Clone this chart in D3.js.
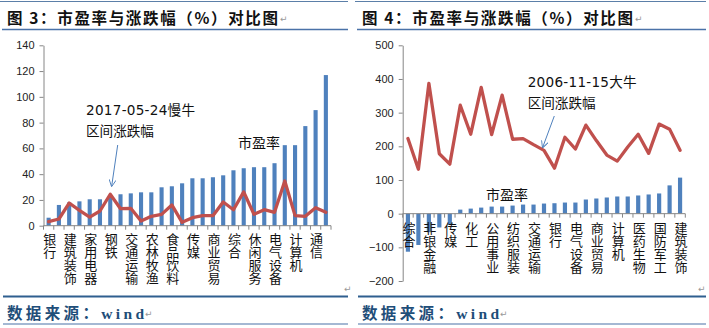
<!DOCTYPE html>
<html><head><meta charset="utf-8">
<script src="https://cdn.jsdelivr.net/npm/d3@7"></script>
<style>
html,body{margin:0;padding:0;background:#fff;}
svg{display:block;}
</style></head>
<body>
<svg id="c" width="709" height="328"></svg>
<script>
// ---------- data ----------
const leftCategories = ["银行","非银金融","建筑装饰","房地产","家用电器","汽车","钢铁","采掘","交通运输","公用事业","农林牧渔","建筑材料","食品饮料","化工","传媒","纺织服装","商业贸易","有色金属","综合","医药生物","休闲服务","轻工制造","电气设备","电子","计算机","机械设备","通信","国防军工"];
const leftPE = [6.2,16.1,18.1,18.9,20.5,20.5,23.5,24.4,25.1,25.9,25.9,29.8,30.6,32.9,36.8,36.8,37.6,39.1,43,44.6,45.4,45.4,48.5,62.5,62.5,77.3,89.7,116.9];
const leftChange = [3.1,5.2,17.6,11.9,6.7,11.4,24.4,13.2,13.5,3.6,7.3,8.8,16.1,2.6,6.2,7.8,7.8,18.4,12.4,26.2,8.8,12.4,10.4,34.7,7.8,7.3,14,10.4];
const leftYTicks = [0,20,40,60,80,100,120,140];

const rightCategories = ["综合","有色金属","非银金融","钢铁","传媒","电子","化工","轻工制造","公用事业","采掘","纺织服装","汽车","交通运输","房地产","银行","家用电器","电气设备","农林牧渔","商业贸易","食品饮料","计算机","机械设备","医药生物","建筑材料","国防军工","休闲服务","建筑装饰"];
const rightPE = [-113,-93,-55,-41,-33,12,15,18,21,21,24,27,27,30,31,33,33,42,45,48,51,51,54,57,60,84,107];
const rightChange = [223,132,387,178,147,322,236,375,235,352,221,223,205,188,135,227,192,263,217,174,156,198,236,179,266,251,188];
const rightYTicks = [-200,-100,0,100,200,300,400,500];

const titles = ["图 3：市盈率与涨跌幅（%）对比图","图 4：市盈率与涨跌幅（%）对比图"];
const sourceText = "数据来源：wind";
const notes = [["2017-05-24慢牛","区间涨跌幅"],["2006-11-15大牛","区间涨跌幅"]];
const seriesLabel = "市盈率";

// ---------- style ----------
const BAR = "#4F81BD", LINE = "#C0504D", AXIS = "#868686";
const svg = d3.select("#c");
svg.append("defs").append("marker")
  .attr("id","arr").attr("viewBox","0 0 10 10").attr("refX",9).attr("refY",5)
  .attr("markerWidth",7).attr("markerHeight",7).attr("orient","auto-start-reverse")
  .attr("markerUnits","userSpaceOnUse")
  .append("path").attr("d","M0,0 L10,5 L0,10").attr("fill","none").attr("stroke",BAR).attr("stroke-width",1.3);

function frame(x0, x1, title, retX){
  svg.append("line").attr("x1",x0).attr("x2",x1).attr("y1",1.5).attr("y2",1.5).attr("stroke","#5B7FA8").attr("stroke-width",1);
  svg.append("text").attr("x",x0+7).attr("y",23.5).text(title)
    .attr("font-family","'Noto Sans CJK SC'").attr("font-weight",700).attr("font-size",15.5)
    .attr("fill","#111").attr("textLength",271).attr("lengthAdjust","spacing");
  svg.append("text").attr("x",x0+280).attr("y",22).text("↵").attr("font-size",9).attr("fill","#999").attr("font-family","'DejaVu Sans'");
  svg.append("line").attr("x1",x0+2).attr("x2",x1).attr("y1",29.5).attr("y2",29.5).attr("stroke","#4A72A8").attr("stroke-width",1.6);
  svg.append("text").attr("x",retX).attr("y",292).text("↵").attr("font-size",9).attr("fill","#999").attr("font-family","'DejaVu Sans'");
  svg.append("line").attr("x1",x0+3).attr("x2",x1).attr("y1",296.5).attr("y2",296.5).attr("stroke","#2F5F8F").attr("stroke-width",2.2);
  svg.append("text").attr("x",x0+7).attr("y",318.5).text(sourceText)
    .attr("font-family","'Liberation Serif','Noto Sans CJK SC'").attr("font-weight",700).attr("font-size",15.5)
    .attr("fill","#1F4E79").attr("textLength",137).attr("lengthAdjust","spacing");
  svg.append("text").attr("x",x0+145).attr("y",317).text("↵").attr("font-size",9).attr("fill","#999").attr("font-family","'DejaVu Sans'");
  svg.append("line").attr("x1",x0+3).attr("x2",x1).attr("y1",324).attr("y2",324).attr("stroke","#4A72A8").attr("stroke-width",1.2);
}
frame(0, 348, titles[0], 344);
frame(355, 706, titles[1], 698);

function chart(opt){
  const {cats, pe, chg, ticks, xr, yr, domain, labelY, note, noteX, noteY, arrow, peLab} = opt;
  const g = svg.append("g");
  const x = d3.scaleBand().domain(cats).range(xr).paddingInner(0).paddingOuter(0);
  const y = d3.scaleLinear().domain(domain).range(yr);
  const bw = x.bandwidth()*0.4;
  g.selectAll("rect.b").data(pe).join("rect")
    .attr("x",(d,i)=>x(cats[i])+x.bandwidth()/2-bw/2)
    .attr("y",d=>Math.min(y(d),y(0)))
    .attr("width",bw)
    .attr("height",d=>Math.abs(y(d)-y(0)))
    .attr("fill",BAR);
  const ya = g.append("g").attr("transform",`translate(${xr[0]},0)`)
    .call(d3.axisLeft(y).tickValues(ticks).tickSize(4).tickSizeOuter(0).tickPadding(5).tickFormat(d3.format("d")));
  ya.select(".domain").attr("stroke",AXIS);
  ya.selectAll(".tick line").attr("stroke",AXIS);
  ya.selectAll(".tick text").attr("font-family","'Liberation Sans',Arial").attr("font-size",11).attr("fill","#222");
  const y0 = y(0);
  g.append("line").attr("x1",xr[0]).attr("x2",xr[1]).attr("y1",y0).attr("y2",y0).attr("stroke",AXIS);
  const bounds = d3.range(cats.length+1).map(i=> i<cats.length ? x(cats[i]) : xr[1]);
  g.selectAll("line.t").data(bounds).join("line")
    .attr("x1",d=>d).attr("x2",d=>d).attr("y1",y0).attr("y2",y0+4).attr("stroke",AXIS);
  const ln = d3.line().x((d,i)=>x(cats[i])+x.bandwidth()/2).y(d=>y(d));
  g.append("path").datum(chg).attr("d",ln).attr("fill","none").attr("stroke",LINE)
    .attr("stroke-width",3.3).attr("stroke-linejoin","round").attr("stroke-linecap","round");
  // category labels (every other), vertical text
  g.selectAll("text.c").data(cats.filter((c,i)=>i%2===0)).join("text")
    .attr("x",c=>x(c)+x.bandwidth()/2+1).attr("y",labelY)
    .style("writing-mode","vertical-rl")
    .attr("font-family","'Noto Sans CJK SC'").attr("font-size",13).attr("fill","#111")
    .text(c=>c);
  g.append("text").attr("x",noteX).attr("y",noteY).text(note[0])
    .attr("font-family","'DejaVu Sans','Noto Sans CJK SC'").attr("font-size",13.6).attr("fill","#111")
    .attr("textLength",109).attr("lengthAdjust","spacing");
  g.append("text").attr("x",noteX).attr("y",noteY+21).text(note[1])
    .attr("font-family","'Noto Sans CJK SC'").attr("font-size",13.6).attr("fill","#111");
  g.append("line").attr("x1",arrow[0]).attr("y1",arrow[1]).attr("x2",arrow[2]).attr("y2",arrow[3])
    .attr("stroke",BAR).attr("stroke-width",1).attr("marker-end","url(#arr)");
  g.append("text").attr("x",peLab[0]).attr("y",peLab[1]).text(seriesLabel)
    .attr("font-family","'Noto Sans CJK SC'").attr("font-size",14).attr("fill","#111");
}

chart({cats:leftCategories, pe:leftPE, chg:leftChange, ticks:leftYTicks,
  xr:[43.5,331], yr:[225.7,45.3], domain:[0,140], labelY:233,
  note:notes[0], noteX:86, noteY:115.3, arrow:[117.7,145,111.7,186], peLab:[238,147.5]});

chart({cats:rightCategories, pe:rightPE, chg:rightChange, ticks:rightYTicks,
  xr:[402.7,685.3], yr:[281,45.3], domain:[-200,500], labelY:222,
  note:notes[1], noteX:527.7, noteY:87.3, arrow:[554.3,116,542.7,147.3], peLab:[486,200]});
</script>
</body></html>
